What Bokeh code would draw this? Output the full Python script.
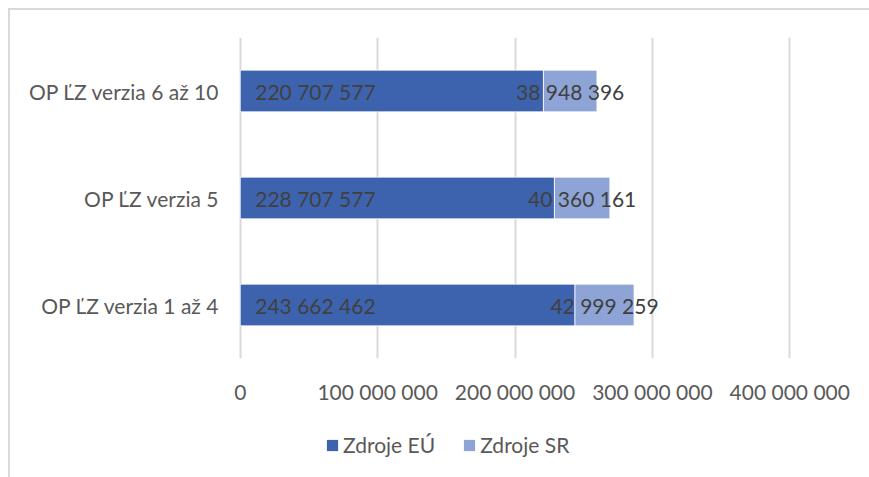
from bokeh.plotting import figure
from bokeh.layouts import column
from bokeh.models import ColumnDataSource, Range1d, FixedTicker, Legend, LegendItem
from bokeh.core.properties import value
from bokeh.embed import file_html
from bokeh.resources import INLINE

categories = ["OP ĽZ verzia 1 až 4", "OP ĽZ verzia 5", "OP ĽZ verzia 6 až 10"]
zdroje_eu = [243662462, 228707577, 220707577]
zdroje_sr = [42999259, 40360161, 38948396]
series_names = ["Zdroje EÚ", "Zdroje SR"]
x_ticks = [0, 100000000, 200000000, 300000000, 400000000]
x_tick_labels = ["0", "100 000 000", "200 000 000", "300 000 000", "400 000 000"]

def fmt(v):
    return f"{v:,}".replace(",", " ")

src = ColumnDataSource(dict(
    cat=categories,
    eu=zdroje_eu,
    sr=zdroje_sr,
    total=[a + b for a, b in zip(zdroje_eu, zdroje_sr)],
    sr_mid=[a + b / 2 for a, b in zip(zdroje_eu, zdroje_sr)],
    zero=[0] * len(categories),
    eu_lbl=[fmt(v) for v in zdroje_eu],
    sr_lbl=[fmt(v) for v in zdroje_sr],
))

FONT = "Lato"
EU_C = "#3D63AE"
SR_C = "#8EA4D6"
W = 861

p = figure(width=W, height=420, y_range=categories, x_range=Range1d(-2000000, 402000000),
           output_backend="svg", toolbar_location=None,
           min_border_left=229, min_border_right=77, min_border_top=29, min_border_bottom=70)
p.outline_line_color = None
p.background_fill_color = "white"
p.border_fill_alpha = 0

r1 = p.hbar(y="cat", left="zero", right="eu", height=0.39, source=src,
            fill_color=EU_C, line_color="white", line_width=0.8)
r2 = p.hbar(y="cat", left="eu", right="total", height=0.39, source=src,
            fill_color=SR_C, line_color="white", line_width=0.8)

p.text(x="zero", y="cat", text="eu_lbl", source=src, x_offset=15,
       text_align="left", text_baseline="middle", text_font=value(FONT),
       text_font_size="21px", text_color="#404040")
p.text(x="sr_mid", y="cat", text="sr_lbl", source=src,
       text_align="center", text_baseline="middle", text_font=value(FONT),
       text_font_size="21px", text_color="#404040")

p.xaxis.ticker = FixedTicker(ticks=x_ticks)
p.xaxis.major_label_overrides = {t: l for t, l in zip(x_ticks, x_tick_labels)}
for ax in (p.xaxis, p.yaxis):
    ax.axis_line_color = None
    ax.major_tick_line_color = None
    ax.minor_tick_line_color = None
    ax.major_label_text_font = FONT
    ax.major_label_text_font_size = "21px"
    ax.major_label_text_color = "#595959"
p.xaxis.major_label_standoff = 14
p.yaxis.major_label_standoff = 12

p.xgrid.grid_line_color = "#d9d9d9"
p.xgrid.grid_line_width = 2
p.ygrid.grid_line_color = None

# legend strip (separate figure so the legend is not clipped by the plot frame);
# its bars have zero height so only the legend swatches show
lg = figure(width=W, height=49, y_range=categories, x_range=Range1d(1e12, 2e12),
            output_backend="svg", toolbar_location=None,
            min_border_left=0, min_border_right=0, min_border_top=0, min_border_bottom=0,
            x_axis_location=None, y_axis_location=None)
lg.outline_line_color = None
lg.background_fill_alpha = 0
lg.border_fill_alpha = 0
lg.grid.grid_line_color = None
l1 = lg.hbar(y="cat", left="zero", right="eu", height=0, source=src,
             fill_color=EU_C, line_color=None)
l2 = lg.hbar(y="cat", left="eu", right="total", height=0, source=src,
             fill_color=SR_C, line_color=None)
legend = Legend(items=[LegendItem(label=series_names[0], renderers=[l1]),
                       LegendItem(label=series_names[1], renderers=[l2])],
                orientation="horizontal", location=(88, 20),
                padding=0, margin=0, spacing=27,
                glyph_width=14, glyph_height=14, label_standoff=4,
                label_text_font=FONT, label_text_font_size="21px",
                label_text_color="#595959",
                border_line_color=None, background_fill_alpha=0)
lg.add_layout(legend, "center")

layout = column(p, lg, spacing=0)
layout.styles = {"margin-left": "8px", "margin-top": "8px",
                 "box-shadow": "inset 2px 2px 0 0 #d9d9d9"}

open("out.html", "w").write(file_html(layout, INLINE))
